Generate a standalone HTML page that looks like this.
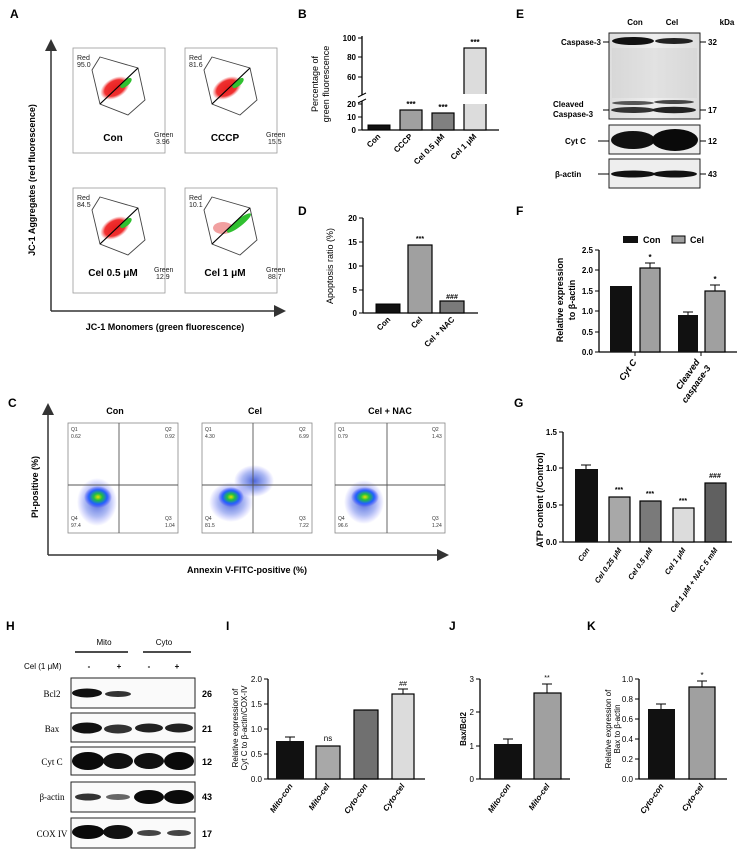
<!DOCTYPE html>
<html><head><meta charset="utf-8"><style>
html,body{margin:0;padding:0;background:#fff;}
svg{display:block;font-family:"Liberation Sans",Arial,sans-serif;}
.b{font-weight:bold;}
</style></head><body>
<svg width="745" height="849" viewBox="0 0 745 849" xmlns="http://www.w3.org/2000/svg">
<defs>
<marker id="ar" markerWidth="8" markerHeight="8" refX="6" refY="4" orient="auto"><path d="M0,0 L8,4 L0,8 z" fill="#333"/></marker>
<radialGradient id="fc"><stop offset="0" stop-color="#e8e000"/><stop offset="0.3" stop-color="#20c040"/><stop offset="0.65" stop-color="#2060ff"/><stop offset="1" stop-color="#4040ff" stop-opacity="0"/></radialGradient>
<radialGradient id="fb"><stop offset="0" stop-color="#2040d0" stop-opacity="0.8"/><stop offset="0.6" stop-color="#3050e0" stop-opacity="0.4"/><stop offset="1" stop-color="#4040ff" stop-opacity="0"/></radialGradient>
<radialGradient id="rd"><stop offset="0" stop-color="#e82020"/><stop offset="0.7" stop-color="#f03030"/><stop offset="1" stop-color="#f06060" stop-opacity="0"/></radialGradient>
<linearGradient id="gb" x1="0" x2="1"><stop offset="0" stop-color="#ddd"/><stop offset="0.5" stop-color="#eee"/><stop offset="1" stop-color="#ddd"/></linearGradient>
</defs>

<g class="b" font-size="12">
<text x="10" y="18">A</text><text x="298" y="18">B</text><text x="516" y="18">E</text>
<text x="298" y="215">D</text><text x="516" y="215">F</text>
<text x="8" y="407">C</text><text x="514" y="407">G</text>
<text x="6" y="630">H</text><text x="226" y="630">I</text><text x="449" y="630">J</text><text x="587" y="630">K</text>
</g>

<!-- Panel A -->
<line x1="51" y1="311" x2="51" y2="42" stroke="#333" stroke-width="1.5" marker-end="url(#ar)"/>
<line x1="51" y1="311" x2="283" y2="311" stroke="#333" stroke-width="1.5" marker-end="url(#ar)"/>
<text class="b" font-size="9" transform="translate(35,180) rotate(-90)" text-anchor="middle">JC-1 Aggregates (red fluorescence)</text>
<text class="b" font-size="9" x="165" y="330" text-anchor="middle">JC-1 Monomers (green fluorescence)</text>
<g id="a1" transform="translate(73,48)">
<rect x="0" y="0" width="92" height="105" fill="#fff" stroke="#999" stroke-width="0.8"/>
<polygon points="27,9 65,20 72,52 55,67 27,56 19,22" fill="none" stroke="#444" stroke-width="0.9"/>
<ellipse cx="42" cy="40" rx="16" ry="10" fill="url(#rd)" transform="rotate(-30 42 40)"/>
<ellipse cx="53" cy="35" rx="7" ry="3" fill="#30c030" transform="rotate(-40 53 35)"/>
<line x1="27" y1="56" x2="65" y2="20" stroke="#000" stroke-width="1.2"/>
</g>
<use href="#a1" x="112"/><use href="#a1" y="140"/>
<g transform="translate(185,188)">
<rect x="0" y="0" width="92" height="105" fill="#fff" stroke="#999" stroke-width="0.8"/>
<polygon points="27,9 65,20 72,52 55,67 27,56 19,22" fill="none" stroke="#444" stroke-width="0.9"/>
<ellipse cx="38" cy="40" rx="10" ry="6" fill="#e88" opacity="0.8"/>
<ellipse cx="54" cy="35" rx="15" ry="3.5" fill="#30c030" transform="rotate(-38 54 35)"/>
<line x1="27" y1="56" x2="65" y2="20" stroke="#000" stroke-width="1.2"/>
</g>
<g font-size="7" fill="#222">
<text x="77" y="60">Red</text><text x="77" y="67">95.0</text><text x="154" y="137">Green</text><text x="156" y="144">3.96</text>
<text x="189" y="60">Red</text><text x="189" y="67">81.6</text><text x="266" y="137">Green</text><text x="268" y="144">15.5</text>
<text x="77" y="200">Red</text><text x="77" y="207">84.5</text><text x="154" y="272">Green</text><text x="156" y="279">12.9</text>
<text x="189" y="200">Red</text><text x="189" y="207">10.1</text><text x="266" y="272">Green</text><text x="268" y="279">88.7</text>
</g>
<g class="b" font-size="10" text-anchor="middle">
<text x="113" y="141">Con</text><text x="225" y="141">CCCP</text><text x="113" y="276">Cel 0.5 μM</text><text x="225" y="276">Cel 1 μM</text>
</g>

<!-- Panel B -->
<g font-size="8" class="b">
<line x1="362" y1="36" x2="362" y2="95" stroke="#000" stroke-width="1.3"/>
<line x1="362" y1="101" x2="362" y2="130" stroke="#000" stroke-width="1.3"/>
<line x1="358" y1="97" x2="366" y2="93" stroke="#000"/><line x1="358" y1="103" x2="366" y2="99" stroke="#000"/>
<line x1="362" y1="130" x2="499" y2="130" stroke="#000" stroke-width="1.3"/>
<g stroke="#000"><line x1="358" y1="38" x2="362" y2="38"/><line x1="358" y1="57" x2="362" y2="57"/><line x1="358" y1="77" x2="362" y2="77"/><line x1="358" y1="104" x2="362" y2="104"/><line x1="358" y1="117" x2="362" y2="117"/><line x1="358" y1="130" x2="362" y2="130"/></g>
<g text-anchor="end"><text x="356" y="41">100</text><text x="356" y="60">80</text><text x="356" y="80">60</text><text x="356" y="107">20</text><text x="356" y="120">10</text><text x="356" y="133">0</text></g>
<text font-weight="normal" font-size="9" transform="translate(318,84) rotate(-90)" text-anchor="middle">Percentage of</text>
<text font-weight="normal" font-size="9" transform="translate(329,84) rotate(-90)" text-anchor="middle">green fluorescence</text>
<rect x="368" y="125" width="22" height="5" fill="#111" stroke="#000"/>
<rect x="400" y="110" width="22" height="20" fill="#a0a0a0" stroke="#000" stroke-width="1.2"/>
<rect x="432" y="113" width="22" height="17" fill="#808080" stroke="#000" stroke-width="1.2"/>
<rect x="464" y="48" width="22" height="82" fill="#dcdcdc" stroke="#000" stroke-width="1.2"/>
<rect x="462" y="94" width="26" height="10" fill="#fff"/>
<g font-size="8" text-anchor="middle"><text x="411" y="107">***</text><text x="443" y="110">***</text><text x="475" y="45">***</text></g>
<g font-size="8" text-anchor="end">
<text transform="translate(381,137) rotate(-45)">Con</text>
<text transform="translate(413,137) rotate(-45)">CCCP</text>
<text transform="translate(445,137) rotate(-45)">Cel 0.5 μM</text>
<text transform="translate(477,137) rotate(-45)">Cel 1 μM</text>
</g>
</g>

<!-- Panel D -->
<g font-size="8" class="b">
<line x1="363" y1="218" x2="363" y2="313" stroke="#000" stroke-width="1.3"/>
<line x1="363" y1="313" x2="478" y2="313" stroke="#000" stroke-width="1.3"/>
<g stroke="#000"><line x1="359" y1="218" x2="363" y2="218"/><line x1="359" y1="242" x2="363" y2="242"/><line x1="359" y1="266" x2="363" y2="266"/><line x1="359" y1="290" x2="363" y2="290"/><line x1="359" y1="313" x2="363" y2="313"/></g>
<g text-anchor="end"><text x="357" y="221">20</text><text x="357" y="245">15</text><text x="357" y="269">10</text><text x="357" y="293">5</text><text x="357" y="316">0</text></g>
<text font-weight="normal" font-size="9" transform="translate(333,266) rotate(-90)" text-anchor="middle">Apoptosis ratio (%)</text>
<rect x="376" y="304" width="24" height="9" fill="#111" stroke="#000"/>
<rect x="408" y="245" width="24" height="68" fill="#a0a0a0" stroke="#000" stroke-width="1.2"/>
<rect x="440" y="301" width="24" height="12" fill="#7a7a7a" stroke="#000" stroke-width="1.2"/>
<g font-size="7" text-anchor="middle"><text x="420" y="241">***</text><text x="452" y="299">###</text></g>
<g text-anchor="end">
<text transform="translate(391,320) rotate(-45)">Con</text>
<text transform="translate(423,320) rotate(-45)">Cel</text>
<text transform="translate(455,320) rotate(-45)">Cel + NAC</text>
</g>
</g>

<!-- Panel E -->
<g font-size="8" class="b">
<text x="635" y="25" text-anchor="middle">Con</text><text x="672" y="25" text-anchor="middle">Cel</text><text x="727" y="25" text-anchor="middle">kDa</text>
<rect x="609" y="33" width="91" height="86" fill="url(#gb)" stroke="#222" stroke-width="1"/>
<ellipse cx="633" cy="41" rx="21" ry="4" fill="#111"/><ellipse cx="674" cy="41" rx="19" ry="3" fill="#222"/>
<rect x="612" y="48" width="85" height="50" fill="#ccc" opacity="0.35"/>
<ellipse cx="633" cy="103" rx="21" ry="2" fill="#555"/><ellipse cx="674" cy="102" rx="20" ry="2" fill="#444"/>
<ellipse cx="633" cy="110" rx="22" ry="3" fill="#333"/><ellipse cx="674" cy="110" rx="22" ry="3.2" fill="#222"/>
<rect x="609" y="125" width="91" height="29" fill="#eee" stroke="#222"/>
<ellipse cx="633" cy="140" rx="22" ry="9" fill="#111"/><ellipse cx="675" cy="140" rx="23" ry="11" fill="#0a0a0a"/>
<rect x="609" y="159" width="91" height="29" fill="#eee" stroke="#222"/>
<ellipse cx="633" cy="174" rx="22" ry="3.5" fill="#111"/><ellipse cx="675" cy="174" rx="22" ry="3.5" fill="#111"/>
<g stroke="#000"><line x1="603" y1="42" x2="609" y2="42"/><line x1="603" y1="110" x2="609" y2="110"/><line x1="598" y1="141" x2="609" y2="141"/><line x1="598" y1="174" x2="609" y2="174"/>
<line x1="700" y1="42" x2="706" y2="42"/><line x1="700" y1="110" x2="706" y2="110"/><line x1="700" y1="141" x2="706" y2="141"/><line x1="700" y1="174" x2="706" y2="174"/></g>
<text x="601" y="45" text-anchor="end">Caspase-3</text>
<text x="553" y="107">Cleaved</text><text x="553" y="117">Caspase-3</text>
<text x="565" y="144">Cyt C</text><text x="555" y="177">β-actin</text>
<text x="708" y="45">32</text><text x="708" y="113">17</text><text x="708" y="144">12</text><text x="708" y="177">43</text>
</g>

<!-- Panel F -->
<g font-size="8" class="b">
<rect x="623" y="236" width="15" height="7" fill="#111"/><text x="643" y="243" font-size="9">Con</text>
<rect x="672" y="236" width="13" height="7" fill="#a0a0a0" stroke="#000"/><text x="690" y="243" font-size="9">Cel</text>
<line x1="599" y1="250" x2="599" y2="352" stroke="#000" stroke-width="1.3"/>
<line x1="599" y1="352" x2="737" y2="352" stroke="#000" stroke-width="1.3"/>
<g stroke="#000"><line x1="595" y1="250" x2="599" y2="250"/><line x1="595" y1="270" x2="599" y2="270"/><line x1="595" y1="291" x2="599" y2="291"/><line x1="595" y1="311" x2="599" y2="311"/><line x1="595" y1="332" x2="599" y2="332"/><line x1="595" y1="352" x2="599" y2="352"/><line x1="635" y1="352" x2="635" y2="356"/><line x1="701" y1="352" x2="701" y2="356"/></g>
<g text-anchor="end"><text x="593" y="253">2.5</text><text x="593" y="273">2.0</text><text x="593" y="294">1.5</text><text x="593" y="314">1.0</text><text x="593" y="335">0.5</text><text x="593" y="355">0.0</text></g>
<text font-size="9" transform="translate(563,300) rotate(-90)" text-anchor="middle">Relative expression</text>
<text font-size="9" transform="translate(575,300) rotate(-90)" text-anchor="middle">to β-actin</text>
<rect x="610" y="286" width="22" height="66" fill="#111"/>
<rect x="640" y="268" width="20" height="84" fill="#a0a0a0" stroke="#000" stroke-width="1.2"/>
<line x1="650" y1="268" x2="650" y2="263" stroke="#000"/><line x1="645" y1="263" x2="655" y2="263" stroke="#000"/>
<rect x="678" y="315" width="20" height="37" fill="#111"/>
<line x1="688" y1="315" x2="688" y2="312" stroke="#000"/><line x1="683" y1="312" x2="693" y2="312" stroke="#000"/>
<rect x="705" y="291" width="20" height="61" fill="#a0a0a0" stroke="#000" stroke-width="1.2"/>
<line x1="715" y1="291" x2="715" y2="285" stroke="#000"/><line x1="710" y1="285" x2="720" y2="285" stroke="#000"/>
<text x="650" y="260" text-anchor="middle">*</text><text x="715" y="282" text-anchor="middle">*</text>
<g font-style="italic" text-anchor="end" font-size="9">
<text transform="translate(637,362) rotate(-55)">Cyt C</text>
<text transform="translate(700,362) rotate(-55)">Cleaved</text>
<text transform="translate(711,368) rotate(-55)">caspase-3</text>
</g>
</g>

<!-- Panel C -->
<line x1="48" y1="555" x2="48" y2="406" stroke="#333" stroke-width="1.5" marker-end="url(#ar)"/>
<line x1="48" y1="555" x2="446" y2="555" stroke="#333" stroke-width="1.5" marker-end="url(#ar)"/>
<text class="b" font-size="9" transform="translate(38,487) rotate(-90)" text-anchor="middle">PI-positive (%)</text>
<text class="b" font-size="9" x="247" y="573" text-anchor="middle">Annexin V-FITC-positive (%)</text>
<g class="b" font-size="9" text-anchor="middle"><text x="115" y="414">Con</text><text x="255" y="414">Cel</text><text x="390" y="414">Cel  + NAC</text></g>
<g stroke="#888" stroke-width="0.8" fill="#fff"><rect x="68" y="423" width="110" height="110"/><rect x="202" y="423" width="110" height="110"/><rect x="335" y="423" width="110" height="110"/></g>
<ellipse cx="97" cy="502" rx="20" ry="24" fill="url(#fb)"/><ellipse cx="98" cy="497" rx="14" ry="11" fill="url(#fc)"/>
<ellipse cx="231" cy="502" rx="22" ry="20" fill="url(#fb)"/><ellipse cx="231" cy="497" rx="13" ry="10" fill="url(#fc)"/>
<ellipse cx="254" cy="481" rx="20" ry="16" fill="url(#fb)"/>
<ellipse cx="364" cy="502" rx="20" ry="22" fill="url(#fb)"/><ellipse cx="365" cy="497" rx="14" ry="10" fill="url(#fc)"/>
<g stroke="#555" stroke-width="0.9">
<line x1="119" y1="423" x2="119" y2="533"/><line x1="68" y1="485" x2="178" y2="485"/>
<line x1="253" y1="423" x2="253" y2="533"/><line x1="202" y1="485" x2="312" y2="485"/>
<line x1="387" y1="423" x2="387" y2="533"/><line x1="335" y1="485" x2="445" y2="485"/>
</g>
<g font-size="5" fill="#333">
<text x="71" y="431">Q1</text><text x="71" y="438">0.62</text><text x="165" y="431">Q2</text><text x="165" y="438">0.92</text><text x="71" y="520">Q4</text><text x="71" y="527">97.4</text><text x="165" y="520">Q3</text><text x="165" y="527">1.04</text>
<text x="205" y="431">Q1</text><text x="205" y="438">4.30</text><text x="299" y="431">Q2</text><text x="299" y="438">6.99</text><text x="205" y="520">Q4</text><text x="205" y="527">81.5</text><text x="299" y="520">Q3</text><text x="299" y="527">7.22</text>
<text x="338" y="431">Q1</text><text x="338" y="438">0.79</text><text x="432" y="431">Q2</text><text x="432" y="438">1.43</text><text x="338" y="520">Q4</text><text x="338" y="527">96.6</text><text x="432" y="520">Q3</text><text x="432" y="527">1.24</text>
</g>

<!-- Panel G -->
<g font-size="8" class="b">
<line x1="563" y1="432" x2="563" y2="542" stroke="#000" stroke-width="1.3"/>
<line x1="563" y1="542" x2="732" y2="542" stroke="#000" stroke-width="1.3"/>
<g stroke="#000"><line x1="559" y1="432" x2="563" y2="432"/><line x1="559" y1="468" x2="563" y2="468"/><line x1="559" y1="505" x2="563" y2="505"/><line x1="559" y1="542" x2="563" y2="542"/></g>
<g text-anchor="end"><text x="557" y="435">1.5</text><text x="557" y="471">1.0</text><text x="557" y="508">0.5</text><text x="557" y="545">0.0</text></g>
<text font-size="9" transform="translate(543,500) rotate(-90)" text-anchor="middle">ATP content (/Control)</text>
<rect x="575" y="469" width="23" height="73" fill="#111"/>
<line x1="586" y1="469" x2="586" y2="465" stroke="#000"/><line x1="581" y1="465" x2="591" y2="465" stroke="#000"/>
<rect x="609" y="497" width="21" height="45" fill="#a8a8a8" stroke="#000" stroke-width="1.2"/>
<rect x="640" y="501" width="21" height="41" fill="#7a7a7a" stroke="#000" stroke-width="1.2"/>
<rect x="673" y="508" width="21" height="34" fill="#dcdcdc" stroke="#000" stroke-width="1.2"/>
<rect x="705" y="483" width="21" height="59" fill="#606060" stroke="#000" stroke-width="1.2"/>
<g font-size="7" text-anchor="middle"><text x="619" y="492">***</text><text x="650" y="496">***</text><text x="683" y="503">***</text><text x="715" y="478">###</text></g>
<g font-style="italic" font-size="7.5" text-anchor="end">
<text transform="translate(590,550) rotate(-55)">Con</text>
<text transform="translate(622,550) rotate(-55)">Cel 0.25 μM</text>
<text transform="translate(653,550) rotate(-55)">Cel 0.5 μM</text>
<text transform="translate(686,550) rotate(-55)">Cel 1 μM</text>
<text transform="translate(718,550) rotate(-55)">Cel 1 μM + NAC 5 mM</text>
</g>
</g>

<!-- Panel H -->
<g font-size="8">
<text x="104" y="645" text-anchor="middle">Mito</text><text x="164" y="645" text-anchor="middle">Cyto</text>
<line x1="75" y1="652" x2="128" y2="652" stroke="#111" stroke-width="1.6"/><line x1="143" y1="652" x2="191" y2="652" stroke="#111" stroke-width="1.6"/>
<text x="24" y="669">Cel (1 μM)</text>
<g class="b" text-anchor="middle"><text x="89" y="669">-</text><text x="119" y="669">+</text><text x="149" y="669">-</text><text x="177" y="669">+</text></g>
<g fill="#fafafa" stroke="#222" stroke-width="1">
<rect x="71" y="678" width="124" height="30"/><rect x="71" y="713" width="124" height="29"/><rect x="71" y="747" width="124" height="28"/><rect x="71" y="782" width="124" height="30"/><rect x="71" y="818" width="124" height="30"/>
</g>
<ellipse cx="87" cy="693" rx="15" ry="4.5" fill="#111"/><ellipse cx="118" cy="694" rx="13" ry="3" fill="#333"/>
<ellipse cx="87" cy="728" rx="15" ry="5.5" fill="#111"/><ellipse cx="118" cy="729" rx="14" ry="4.5" fill="#333"/><ellipse cx="149" cy="728" rx="14" ry="4.5" fill="#222"/><ellipse cx="179" cy="728" rx="14" ry="4.5" fill="#222"/>
<ellipse cx="88" cy="761" rx="16" ry="9" fill="#0a0a0a"/><ellipse cx="118" cy="761" rx="15" ry="8" fill="#111"/><ellipse cx="149" cy="761" rx="15" ry="8" fill="#111"/><ellipse cx="179" cy="761" rx="15" ry="9" fill="#0a0a0a"/>
<ellipse cx="88" cy="797" rx="13" ry="3.5" fill="#333"/><ellipse cx="118" cy="797" rx="12" ry="3" fill="#666"/><ellipse cx="149" cy="797" rx="15" ry="7" fill="#0a0a0a"/><ellipse cx="179" cy="797" rx="15" ry="7" fill="#0a0a0a"/>
<ellipse cx="88" cy="832" rx="16" ry="7" fill="#0a0a0a"/><ellipse cx="118" cy="832" rx="15" ry="7" fill="#111"/><ellipse cx="149" cy="833" rx="12" ry="3" fill="#444"/><ellipse cx="179" cy="833" rx="12" ry="3" fill="#444"/>
<g font-family="Liberation Serif,serif" text-anchor="middle" font-size="9"><text x="52" y="697">Bcl2</text><text x="52" y="732">Bax</text><text x="52" y="765">Cyt C</text><text x="52" y="800">β-actin</text><text x="52" y="837">COX IV</text></g>
<g class="b" font-size="9"><text x="202" y="697">26</text><text x="202" y="732">21</text><text x="202" y="765">12</text><text x="202" y="800">43</text><text x="202" y="837">17</text></g>
</g>

<!-- Panel I -->
<g font-size="8">
<line x1="268" y1="679" x2="268" y2="779" stroke="#000" stroke-width="1.3"/>
<line x1="268" y1="779" x2="425" y2="779" stroke="#000" stroke-width="1.3"/>
<g stroke="#000"><line x1="264" y1="679" x2="268" y2="679"/><line x1="264" y1="704" x2="268" y2="704"/><line x1="264" y1="729" x2="268" y2="729"/><line x1="264" y1="754" x2="268" y2="754"/><line x1="264" y1="779" x2="268" y2="779"/></g>
<g text-anchor="end"><text x="262" y="682">2.0</text><text x="262" y="707">1.5</text><text x="262" y="732">1.0</text><text x="262" y="757">0.5</text><text x="262" y="782">0.0</text></g>
<text font-size="8" transform="translate(238,728) rotate(-90)" text-anchor="middle">Relative expression of</text>
<text font-size="8" transform="translate(247,728) rotate(-90)" text-anchor="middle">Cyt C to β-actin/COX-IV</text>
<rect x="276" y="741" width="28" height="38" fill="#111"/>
<line x1="290" y1="741" x2="290" y2="737" stroke="#000"/><line x1="285" y1="737" x2="295" y2="737" stroke="#000"/>
<rect x="316" y="746" width="24" height="33" fill="#a8a8a8" stroke="#000" stroke-width="1.2"/>
<rect x="354" y="710" width="24" height="69" fill="#707070" stroke="#000" stroke-width="1.2"/>
<rect x="392" y="694" width="22" height="85" fill="#dcdcdc" stroke="#000" stroke-width="1.2"/>
<line x1="403" y1="694" x2="403" y2="689" stroke="#000"/><line x1="398" y1="689" x2="408" y2="689" stroke="#000"/>
<text x="328" y="741" text-anchor="middle">ns</text><text x="403" y="686" text-anchor="middle" font-size="7">##</text>
<g class="b" font-style="italic" text-anchor="end" font-size="8">
<text transform="translate(293,786) rotate(-55)">Mito-con</text>
<text transform="translate(330,786) rotate(-55)">Mito-cel</text>
<text transform="translate(368,786) rotate(-55)">Cyto-con</text>
<text transform="translate(405,786) rotate(-55)">Cyto-cel</text>
</g>
</g>

<!-- Panel J -->
<g font-size="8">
<line x1="480" y1="679" x2="480" y2="779" stroke="#000" stroke-width="1.3"/>
<line x1="480" y1="779" x2="570" y2="779" stroke="#000" stroke-width="1.3"/>
<g stroke="#000"><line x1="476" y1="679" x2="480" y2="679"/><line x1="476" y1="712" x2="480" y2="712"/><line x1="476" y1="746" x2="480" y2="746"/><line x1="476" y1="779" x2="480" y2="779"/></g>
<g text-anchor="end"><text x="474" y="682">3</text><text x="474" y="715">2</text><text x="474" y="749">1</text><text x="474" y="782">0</text></g>
<text class="b" transform="translate(466,729) rotate(-90)" text-anchor="middle">Bax/Bcl2</text>
<rect x="494" y="744" width="28" height="35" fill="#111"/>
<line x1="508" y1="744" x2="508" y2="739" stroke="#000"/><line x1="503" y1="739" x2="513" y2="739" stroke="#000"/>
<rect x="534" y="693" width="27" height="86" fill="#a0a0a0" stroke="#000" stroke-width="1.2"/>
<line x1="547" y1="693" x2="547" y2="684" stroke="#000"/><line x1="542" y1="684" x2="552" y2="684" stroke="#000"/>
<text x="547" y="680" text-anchor="middle" font-size="7">**</text>
<g class="b" font-style="italic" text-anchor="end" font-size="8">
<text transform="translate(511,786) rotate(-55)">Mito-con</text>
<text transform="translate(550,786) rotate(-55)">Mito-cel</text>
</g>
</g>

<!-- Panel K -->
<g font-size="8">
<line x1="639" y1="679" x2="639" y2="779" stroke="#000" stroke-width="1.3"/>
<line x1="639" y1="779" x2="727" y2="779" stroke="#000" stroke-width="1.3"/>
<g stroke="#000"><line x1="635" y1="679" x2="639" y2="679"/><line x1="635" y1="699" x2="639" y2="699"/><line x1="635" y1="719" x2="639" y2="719"/><line x1="635" y1="739" x2="639" y2="739"/><line x1="635" y1="759" x2="639" y2="759"/><line x1="635" y1="779" x2="639" y2="779"/></g>
<g text-anchor="end"><text x="633" y="682">1.0</text><text x="633" y="702">0.8</text><text x="633" y="722">0.6</text><text x="633" y="742">0.4</text><text x="633" y="762">0.2</text><text x="633" y="782">0.0</text></g>
<text transform="translate(611,729) rotate(-90)" text-anchor="middle">Relative expression of</text>
<text transform="translate(620,729) rotate(-90)" text-anchor="middle">Bax to β-actin</text>
<rect x="648" y="709" width="27" height="70" fill="#111"/>
<line x1="661" y1="709" x2="661" y2="704" stroke="#000"/><line x1="656" y1="704" x2="666" y2="704" stroke="#000"/>
<rect x="689" y="687" width="26" height="92" fill="#a0a0a0" stroke="#000" stroke-width="1.2"/>
<line x1="702" y1="687" x2="702" y2="681" stroke="#000"/><line x1="697" y1="681" x2="707" y2="681" stroke="#000"/>
<text x="702" y="678" text-anchor="middle">*</text>
<g class="b" font-style="italic" text-anchor="end" font-size="8">
<text transform="translate(664,786) rotate(-55)">Cyto-con</text>
<text transform="translate(704,786) rotate(-55)">Cyto-cel</text>
</g>
</g>
</svg>
</body></html>
